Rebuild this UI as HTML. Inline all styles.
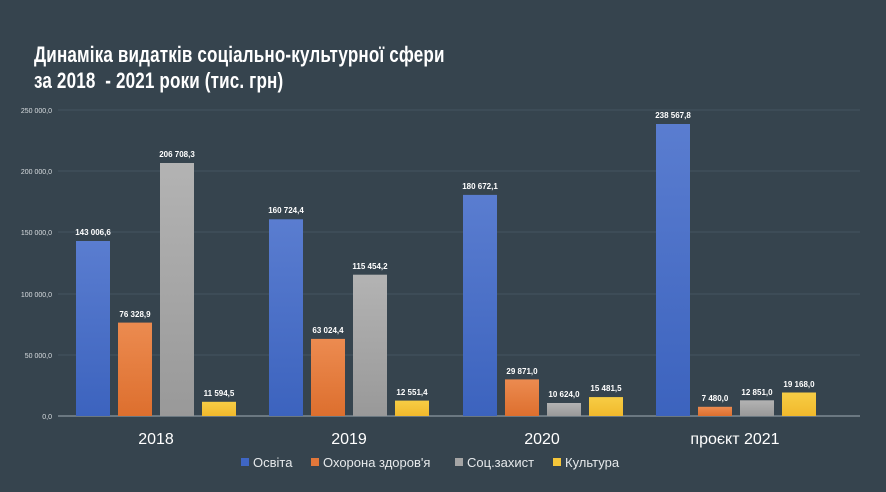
<!DOCTYPE html>
<html><head><meta charset="utf-8"><style>
body{margin:0;background:#36444e;width:886px;height:492px;overflow:hidden;font-family:"Liberation Sans",sans-serif}
.t{position:absolute;left:34px;color:#fff;font-weight:bold;font-size:22px;transform:scaleX(0.775);transform-origin:left top;white-space:nowrap;letter-spacing:0.2px}
</style></head><body>
<div class="t" style="top:42px">Динаміка видатків соціально-культурної сфери</div>
<div class="t" style="top:68px">за 2018&nbsp; - 2021 роки (тис. грн)</div>
<svg width="886" height="492" style="position:absolute;left:0;top:0" font-family="Liberation Sans, sans-serif">
<defs>
<linearGradient id="b" x1="0" y1="0" x2="0" y2="1"><stop offset="0" stop-color="#5a7dd0"/><stop offset="1" stop-color="#3c63be"/></linearGradient>
<linearGradient id="o" x1="0" y1="0" x2="0" y2="1"><stop offset="0" stop-color="#ec8b50"/><stop offset="1" stop-color="#dd6f2e"/></linearGradient>
<linearGradient id="g" x1="0" y1="0" x2="0" y2="1"><stop offset="0" stop-color="#b3b3b3"/><stop offset="1" stop-color="#999"/></linearGradient>
<linearGradient id="y" x1="0" y1="0" x2="0" y2="1"><stop offset="0" stop-color="#f7cd45"/><stop offset="1" stop-color="#f1b92c"/></linearGradient>
</defs>
<g stroke="#445560" stroke-width="1">
<line x1="58" y1="110" x2="860" y2="110"/><line x1="58" y1="171" x2="860" y2="171"/><line x1="58" y1="232" x2="860" y2="232"/><line x1="58" y1="294" x2="860" y2="294"/><line x1="58" y1="355" x2="860" y2="355"/>
</g>
<line x1="58" y1="416" x2="860" y2="416" stroke="#7d8a92" stroke-width="1.5"/>
<g fill="#d8dde0" font-size="7" text-anchor="end">
<text x="52" y="113">250 000,0</text><text x="52" y="174">200 000,0</text><text x="52" y="235">150 000,0</text><text x="52" y="297">100 000,0</text><text x="52" y="358">50 000,0</text><text x="52" y="419">0,0</text>
</g>
<g font-size="8" font-weight="bold" fill="#fff" text-anchor="middle">
<rect x="76" y="241" width="34" height="175" fill="url(#b)"/><text x="93" y="235">143 006,6</text>
<rect x="118" y="322.6" width="34" height="93.4" fill="url(#o)"/><text x="135" y="317">76 328,9</text>
<rect x="160" y="163" width="34" height="253" fill="url(#g)"/><text x="177" y="157">206 708,3</text>
<rect x="202" y="401.8" width="34" height="14.2" fill="url(#y)"/><text x="219" y="396">11 594,5</text>

<rect x="269" y="219.3" width="34" height="196.7" fill="url(#b)"/><text x="286" y="213">160 724,4</text>
<rect x="311" y="338.9" width="34" height="77.1" fill="url(#o)"/><text x="328" y="333">63 024,4</text>
<rect x="353" y="274.7" width="34" height="141.3" fill="url(#g)"/><text x="370" y="269">115 454,2</text>
<rect x="395" y="400.6" width="34" height="15.4" fill="url(#y)"/><text x="412" y="395">12 551,4</text>

<rect x="463" y="194.9" width="34" height="221.1" fill="url(#b)"/><text x="480" y="189">180 672,1</text>
<rect x="505" y="379.4" width="34" height="36.6" fill="url(#o)"/><text x="522" y="374">29 871,0</text>
<rect x="547" y="403" width="34" height="13" fill="url(#g)"/><text x="564" y="397">10 624,0</text>
<rect x="589" y="397.1" width="34" height="18.9" fill="url(#y)"/><text x="606" y="391">15 481,5</text>

<rect x="656" y="124" width="34" height="292" fill="url(#b)"/><text x="673" y="118">238 567,8</text>
<rect x="698" y="406.8" width="34" height="9.2" fill="url(#o)"/><text x="715" y="401">7 480,0</text>
<rect x="740" y="400.3" width="34" height="15.7" fill="url(#g)"/><text x="757" y="395">12 851,0</text>
<rect x="782" y="392.5" width="34" height="23.5" fill="url(#y)"/><text x="799" y="387">19 168,0</text>
</g>
<g fill="#fff" font-size="16" text-anchor="middle">
<text x="156" y="444">2018</text><text x="349" y="444">2019</text><text x="542" y="444">2020</text><text x="735" y="444">проєкт 2021</text>
</g>
<g font-size="13" fill="#e6e9eb">
<rect x="241" y="458" width="8" height="8" fill="#3f66c4"/><text x="253" y="467">Освіта</text>
<rect x="311" y="458" width="8" height="8" fill="#e2773a"/><text x="323" y="467">Охорона здоров'я</text>
<rect x="455" y="458" width="8" height="8" fill="#a5a5a5"/><text x="467" y="467">Соц.захист</text>
<rect x="553" y="458" width="8" height="8" fill="#f5c63a"/><text x="565" y="467">Культура</text>
</g>
</svg>
</body></html>
